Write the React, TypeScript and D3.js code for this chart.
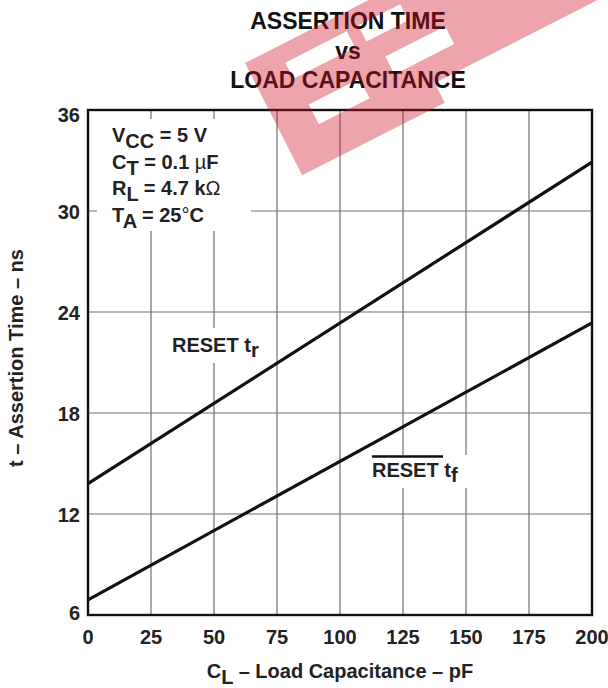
import React from "react";
import * as d3 from "d3";

const capacitance = [0, 200];
const resetRise = [13.8, 32.9];
const resetFall = [6.9, 23.35];
const xTicks = [0, 25, 50, 75, 100, 125, 150, 175, 200];
const yTicks = [6, 12, 18, 24, 30, 36];
const titleLines = ["ASSERTION TIME", "vs", "LOAD CAPACITANCE"];

const FONT = "'Liberation Sans', Arial, Helvetica, sans-serif";

export default function App() {
  const W = 608, H = 688;
  const x = d3.scaleLinear().domain([0, 200]).range([88, 592]);
  const y = d3.scaleLinear().domain([6, 36]).range([615, 110]);
  const line = d3
    .line<number>()
    .x((_, i) => x(capacitance[i]))
    .y((d) => y(d));

  const gridX = xTicks.filter((t) => t > 0 && t < 200);
  const gridY = yTicks.filter((t) => t > 6 && t < 36);

  const logoPath =
    "M0,0 H400 V104 H160 V126 H0 Z " +
    "M36,18 H105 V36 H36 Z M118,18 H165 V36 H118 Z " +
    "M38,66 H95 V88 H38 Z M128,58 H195 V78 H128 Z";

  return (
    <svg
      width={W}
      height={H}
      style={{ position: "absolute", left: 0, top: 0, background: "#fff" }}
      fontFamily={FONT}
      fontWeight="bold"
    >
      <rect x={0} y={0} width={W} height={H} fill="#fff" />
      {/* grid */}
      {gridX.map((t) => (
        <line key={"gx" + t} x1={x(t)} x2={x(t)} y1={y(36)} y2={y(6)} stroke="#6e6e6e" strokeWidth={1.2} />
      ))}
      {gridY.map((t) => (
        <line key={"gy" + t} x1={x(0)} x2={x(200)} y1={y(t)} y2={y(t)} stroke="#6e6e6e" strokeWidth={1.2} />
      ))}
      {/* label backgrounds */}
      <rect x={97} y={119} width={154} height={112} fill="#fff" />
      <rect x={165} y={328} width={106} height={35} fill="#fff" />
      <rect x={365} y={455} width={110} height={33} fill="#fff" />
      {/* curves */}
      <path d={line(resetRise) || ""} fill="none" stroke="#111" strokeWidth={3.2} />
      <path d={line(resetFall) || ""} fill="none" stroke="#111" strokeWidth={3.2} />
      {/* frame */}
      <rect x={x(0)} y={y(36)} width={x(200) - x(0)} height={y(6) - y(36)} fill="none" stroke="#111" strokeWidth={2.4} />
      {/* y tick labels */}
      {yTicks.map((t) => (
        <text key={"yt" + t} x={80} y={y(t) + (t === 36 ? 12 : t === 6 ? 5 : 7.5)} fontSize={20} textAnchor="end" fill="#222">
          {t}
        </text>
      ))}
      {/* x tick labels */}
      {xTicks.map((t) => (
        <text key={"xt" + t} x={x(t)} y={644} fontSize={20} textAnchor="middle" fill="#222">
          {t}
        </text>
      ))}
      {/* axis titles */}
      <text x={340} y={678} fontSize={20} textAnchor="middle" fill="#222">
        C<tspan dy={6}>L</tspan>
        <tspan dy={-6}> – Load Capacitance – pF</tspan>
      </text>
      <text transform="translate(23,358) rotate(-90)" fontSize={20} textAnchor="middle" fill="#222">
        t – Assertion Time – ns
      </text>
      {/* title */}
      {titleLines.map((s, i) => (
        <text key={"tl" + i} x={348} y={[29, 59, 88][i]} fontSize={23} textAnchor="middle" fill="#111">
          {s}
        </text>
      ))}
      {/* conditions */}
      <g fontSize={20} fill="#222">
        <text x={112} y={141.5}>
          V<tspan dy={6}>CC</tspan>
          <tspan dy={-6}> = 5 V</tspan>
        </text>
        <text x={112} y={168.5}>
          C<tspan dy={6}>T</tspan>
          <tspan dy={-6}> = 0.1 </tspan>
          <tspan fontWeight="normal">µ</tspan>F
        </text>
        <text x={112} y={195}>
          R<tspan dy={6}>L</tspan>
          <tspan dy={-6}> = 4.7 k</tspan>
          <tspan fontWeight="normal">Ω</tspan>
        </text>
        <text x={112} y={221.5}>
          T<tspan dy={6}>A</tspan>
          <tspan dy={-6}> = 25</tspan>
          <tspan fontWeight="normal">°</tspan>C
        </text>
      </g>
      {/* series labels */}
      <text x={172} y={351.5} fontSize={20} fill="#222">
        RESET t<tspan dy={5}>r</tspan>
      </text>
      <line x1={372} x2={443} y1={456.5} y2={456.5} stroke="#111" strokeWidth={2.6} />
      <text x={372} y={476.5} fontSize={20} fill="#222">
        RESET t<tspan dy={5}>f</tspan>
      </text>
      {/* watermark */}
      <path
        d={logoPath}
        transform="translate(245,63) rotate(-27)"
        fill="#d01020"
        fillOpacity={0.38}
        fillRule="evenodd"
      />
    </svg>
  );
}
